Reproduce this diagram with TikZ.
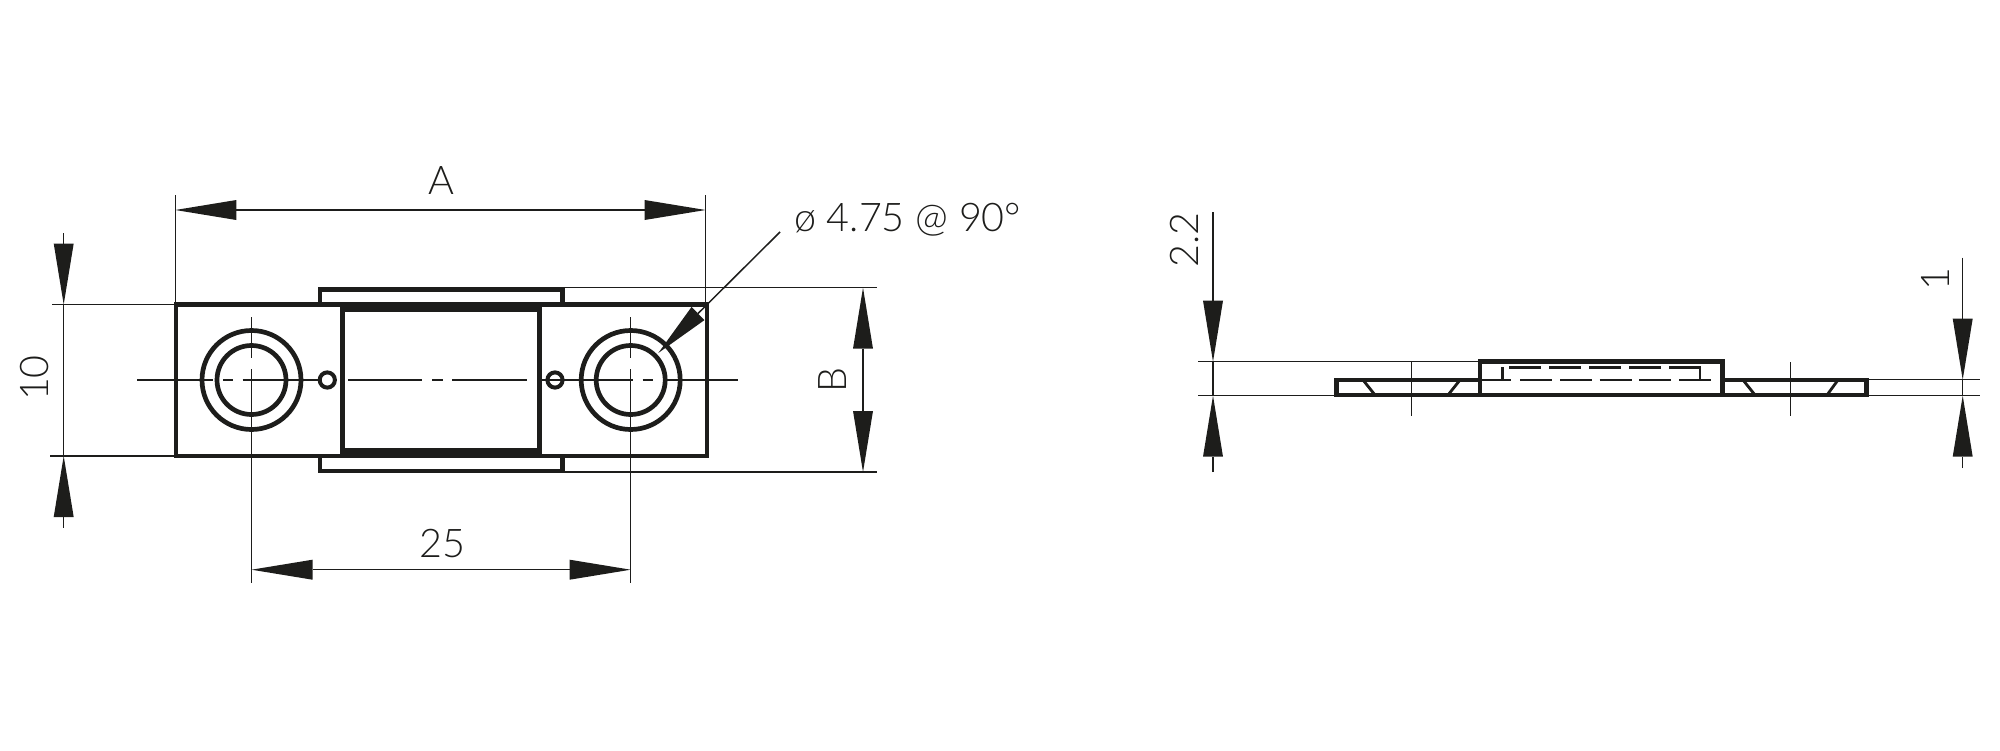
\documentclass[tikz,border=0pt]{standalone}
\usepackage{fontspec}
\setmainfont{Lato Light}
\usetikzlibrary{arrows.meta}
\definecolor{ink}{HTML}{1D1D1B}
\tikzset{
  thickline/.style={draw=ink,line width=4.7pt,line join=miter},
  midline/.style={draw=ink,line width=2.8pt},
  thinline/.style={draw=ink,line width=1.5pt},
  dimhead/.tip={Triangle[length=61pt,width=20pt,line width=0pt]},
  dimline/.style={thinline,{dimhead}-{dimhead}},
  stubline/.style={thinline,-{dimhead}},
  lab/.style={font=\fontsize{39.5}{40}\selectfont,text=ink,inner sep=0pt},
  band/.style={fill=ink,draw=none},
}
\begin{document}
\begin{tikzpicture}[x=1pt,y=-1pt]
\useasboundingbox (0,0) rectangle (2000,750);
% --- front view: centre lines
\draw[thinline] (137,380) -- (212.7,380) (223,380) -- (233,380) (242.7,380) -- (320,380);
\draw[thinline] (348,380) -- (421.7,380) (432,380) -- (443,380) (452,380) -- (527,380);
\draw[thinline] (540,380) -- (632.7,380) (642.7,380) -- (652.7,380) (663,380) -- (737.7,380);
\draw[thinline] (251.5,317) -- (251.5,358) (251.5,369) -- (251.5,583);
\draw[thinline] (630.7,317) -- (630.7,358) (630.7,369) -- (630.7,583);
% --- front view: body
\draw[thickline] (176,304.5) rectangle (707,456);
\draw[thickline] (342.5,304.5) rectangle (539.5,456);
\fill[band] (340.3,302.3) rectangle (541.7,312);
\fill[band] (340.3,448) rectangle (541.7,458.2);
\draw[thickline] (320,304.5) -- (320,289.3) -- (562.5,289.3) -- (562.5,304.5);
\draw[thickline] (320,456) -- (320,471) -- (562.5,471) -- (562.5,456);
\draw[thickline] (251.5,380) circle[radius=49.5];
\draw[thickline] (251.5,380) circle[radius=34.5];
\draw[thickline] (630.7,380) circle[radius=49.5];
\draw[thickline] (630.7,380) circle[radius=34.5];
\draw[draw=ink,line width=4pt] (327.3,380) circle[radius=7.6];
\draw[draw=ink,line width=4pt] (555,380) circle[radius=7.6];
% --- front view: extension lines
\coordinate (aL) at (175.3,210);
\coordinate (aR) at (705.6,210);
\draw[thinline] (175.3,195) -- (175.3,304);
\draw[thinline] (705.6,195) -- (705.6,304);
\draw[dimline] (aL) -- (aR);
\node[lab] (labA) at (441.5,181) {A};
\draw[thinline] (52,304.5) -- (175,304.5);
\draw[thinline] (50,456) -- (175,456);
\coordinate (tenTopStub) at (63.7,233);
\coordinate (tenTop) at (63.7,304.5);
\coordinate (tenBot) at (63.7,456);
\coordinate (tenBotStub) at (63.7,527.7);
\draw[stubline] (tenTopStub) -- (tenTop);
\draw[stubline] (tenBotStub) -- (tenBot);
\draw[thinline] (tenTop) -- (tenBot);
\node[lab,rotate=90] (lab10) at (34.5,378) {10};
\coordinate (q25L) at (251.5,569.7);
\coordinate (q25R) at (630.7,569.7);
\draw[dimline] (q25L) -- (q25R);
\node[lab] (lab25) at (442.5,544) {25};
\draw[thinline] (563,287.7) -- (877,287.7);
\draw[thinline] (563,472) -- (877,472);
\coordinate (bT) at (863,287.7);
\coordinate (bB) at (863,472);
\draw[dimline] (bT) -- (bB);
\node[lab,rotate=90] (labB) at (833,380) {B};
\coordinate (leadS) at (780,232);
\coordinate (leadT) at (658.3,353);
\draw[thinline,-{Triangle[length=56pt,width=18.4pt,line width=0pt]}] (leadS) -- (leadT);
\node[lab,anchor=base west] (labD) at (794,231) {ø 4.75 @ 90°};
% --- side view
\draw[thinline] (1198,361.7) -- (1480,361.7);
\draw[thinline] (1198,395.7) -- (1336,395.7);
\coordinate (s22a) at (1213,212);
\coordinate (s22b) at (1213,361.7);
\coordinate (s22c) at (1213,395.7);
\coordinate (s22d) at (1213,472);
\draw[stubline] (s22a) -- (s22b);
\draw[stubline] (s22d) -- (s22c);
\draw[thinline] (s22b) -- (s22c);
\node[lab,rotate=90] (lab22) at (1185,240) {2.2};
\draw[thinline] (1868,379.7) -- (1980,379.7);
\draw[thinline] (1868,395.7) -- (1980,395.7);
\coordinate (s1a) at (1962.7,257.6);
\coordinate (s1b) at (1962.7,379.7);
\coordinate (s1c) at (1962.7,395.7);
\coordinate (s1d) at (1962.7,468);
\draw[stubline] (s1a) -- (s1b);
\draw[stubline] (s1d) -- (s1c);
\draw[thinline] (s1b) -- (s1c);
\node[lab,rotate=90] (lab1) at (1935,279) {1};
\draw[thinline] (1411.7,361.7) -- (1411.7,416);
\draw[thinline] (1790.7,362) -- (1790.7,416);
\draw[thickline] (1480,380) -- (1336.3,380) -- (1336.3,395) -- (1866.7,395) -- (1866.7,380) -- (1722.7,380);
\draw[thickline] (1480,395) -- (1480,361.7) -- (1722.7,361.7) -- (1722.7,395);
\draw[midline] (1363,380) -- (1375,395) (1460,380) -- (1448,395);
\draw[midline] (1743,380) -- (1755,395) (1838,380) -- (1827,395);
\draw[midline] (1502.7,380) -- (1502.7,366.7);
\draw[midline] (1700,380) -- (1700,367.3);
\foreach \xa in {1509,1549,1589,1629,1669} \draw[midline] (\xa,367.3) -- ++(32,0);
\draw[midline] (1480,380) -- (1511,380);
\foreach \xa in {1520,1560,1599.5,1639,1679} \draw[midline] (\xa,380) -- ++(32,0);
\end{tikzpicture}
\end{document}
